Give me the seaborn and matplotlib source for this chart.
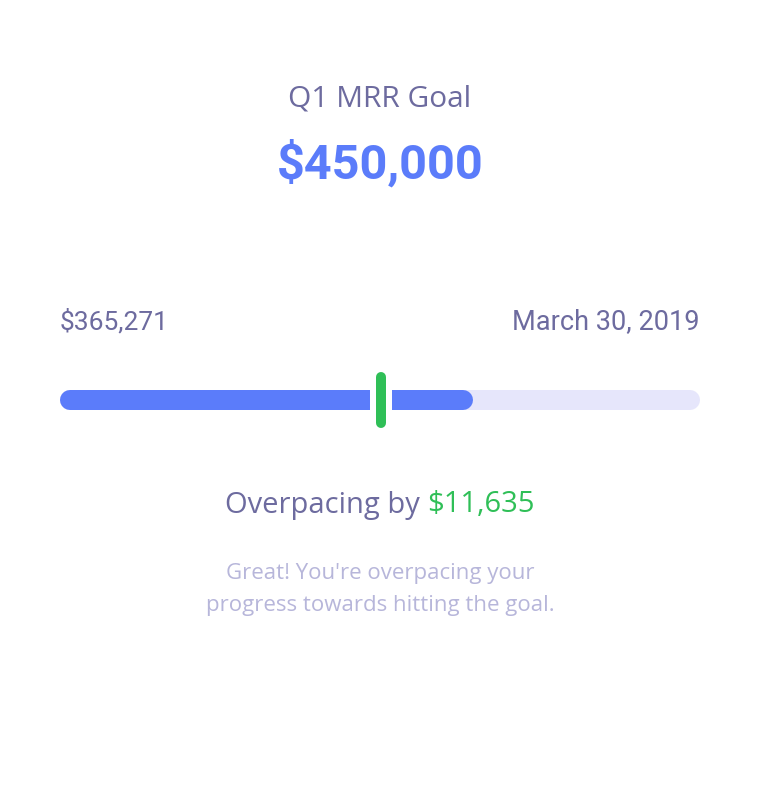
import matplotlib
matplotlib.use("Agg")
import matplotlib.pyplot as plt
import seaborn as sns
import pandas as pd

# ---- data ----
goal_title = "Q1 MRR Goal"
goal_value = "$450,000"
current_label = "$365,271"
date_label = "March 30, 2019"
pace_prefix = "Overpacing by "
pace_amount = "$11,635"
message_lines = ["Great! You're overpacing your", "progress towards hitting the goal."]
scale_min = 0.0
scale_max = 100.0
progress_value = 64.5   # filled portion of the bar (percent of track)
pace_marker = 50.2      # expected-pace marker (percent of track)

# ---- style ----
sns.set_theme(style="white")
plt.rcParams['font.family'] = ['Roboto', 'DejaVu Sans']
OPEN = ['Open Sans', 'DejaVu Sans']

TEXT = "#6D6B9F"
LIGHT = "#B7B6DA"
BLUE = "#5B7CFA"
TRACK = "#E6E6FB"
GREEN = "#2FBF57"

W, H = 760, 800
fig = plt.figure(figsize=(W / 100, H / 100), dpi=100)
fig.patch.set_facecolor("white")

# text layer in pixel coords
tax = fig.add_axes([0, 0, 1, 1])
tax.set_xlim(0, W)
tax.set_ylim(H, 0)
tax.axis("off")

tax.text(380, 99, goal_title, ha="center", va="center", fontsize=21.5, color=TEXT, family=OPEN)
tax.text(380, 164, goal_value, ha="center", va="center", fontsize=35,
         fontweight="bold", color=BLUE)
tax.text(60, 322, current_label, ha="left", va="center", fontsize=19, color=TEXT)
tax.text(700, 322, date_label, ha="right", va="center", fontsize=19.5, color=TEXT)

# "Overpacing by $11,635" centered as one line with two colours
t1 = tax.text(0, 505, pace_prefix, ha="left", va="center", fontsize=21, color=TEXT, family=OPEN)
t2 = tax.text(0, 505, pace_amount, ha="left", va="center", fontsize=21, color=GREEN, family=OPEN)
fig.canvas.draw()
r = fig.canvas.get_renderer()
w1 = t1.get_window_extent(r).width
w2 = t2.get_window_extent(r).width
start = 380 - (w1 + w2) / 2
t1.set_x(start)
t2.set_x(start + w1)

tax.text(380, 574, message_lines[0], ha="center", va="center", fontsize=16, color=LIGHT, family=OPEN)
tax.text(380, 606, message_lines[1], ha="center", va="center", fontsize=16, color=LIGHT, family=OPEN)

# bar layer: x spans the track from px 60 to 700, y spans px 360..440
bax = fig.add_axes([60 / W, 1 - 440 / H, 640 / W, 80 / H])
bax.set_xlim(scale_min, scale_max)
bax.set_ylim(-1, 1)
bax.axis("off")
bax.patch.set_alpha(0)

bar_px = 20            # bar thickness in pixels
lw = bar_px * 72 / 100  # in points
cap = (bar_px / 2) / 640 * (scale_max - scale_min)  # round-cap radius in data units

track = pd.DataFrame({"x": [scale_min + cap, scale_max - cap], "y": [0, 0]})
fill = pd.DataFrame({"x": [scale_min + cap, progress_value - cap], "y": [0, 0]})
sns.lineplot(data=track, x="x", y="y", ax=bax, color=TRACK, linewidth=lw,
             solid_capstyle="round", sort=False, estimator=None)
sns.lineplot(data=fill, x="x", y="y", ax=bax, color=BLUE, linewidth=lw,
             solid_capstyle="round", sort=False, estimator=None)

# white gap around the marker
gap = 22 / 640 * (scale_max - scale_min)
bax.fill_between([pace_marker - gap / 2, pace_marker + gap / 2], -0.3, 0.3,
                 color="white", zorder=3, linewidth=0)

# marker (10px wide, 56px tall with round caps)
mk_r = 5 / 40  # radius in y data units (80px -> 2 units)
marker = pd.DataFrame({"x": [pace_marker, pace_marker],
                       "y": [-(28 / 40) + mk_r, (28 / 40) - mk_r]})
sns.lineplot(data=marker, x="x", y="y", ax=bax, color=GREEN, linewidth=10 * 72 / 100,
             solid_capstyle="round", sort=False, estimator=None, zorder=4)
bax.set_xlabel("")
bax.set_ylabel("")

fig.savefig("out.png", dpi=100, facecolor="white")
